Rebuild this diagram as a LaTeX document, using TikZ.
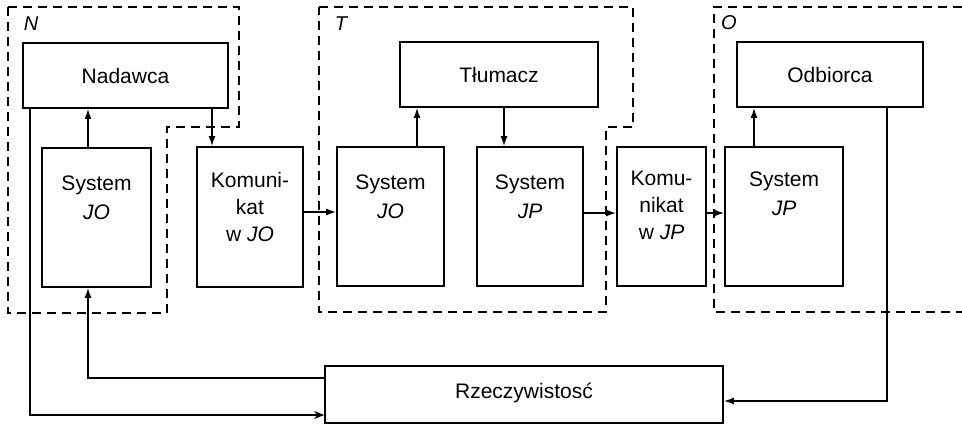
\documentclass[tikz,border=0pt]{standalone}
\usepackage{fontspec}
\setmainfont{Liberation Sans}
\usetikzlibrary{arrows.meta,calc}
\begin{document}
\begin{tikzpicture}[x=1pt,y=-1pt,
  box/.style={draw,line width=1.7pt,rectangle,inner sep=0pt},
  txt/.style={align=center,inner sep=0pt,font=\fontsize{21}{29}\selectfont},
  ktxt/.style={align=center,inner sep=0pt,font=\fontsize{21}{27}\selectfont},
  lbl/.style={inner sep=0pt,font=\fontsize{20}{22}\selectfont\itshape},
  region/.style={dashed,dash pattern=on 9pt off 6pt,line width=1.5pt},
  conn/.style={line width=1.5pt},
  arr/.style={conn,-{Latex[length=10pt,width=7pt]}},
  oarr/.style={conn,-{Stealth[length=10pt,width=8pt,open]}}]
\useasboundingbox (0,0) rectangle (962,424);
% regions
\draw[region] (8,7) -- (239,7) -- (239,127) -- (167,127) -- (167,313) -- (8,313) -- cycle;
\draw[region] (319,7) -- (633,7) -- (633,127) -- (606,127) -- (606,312) -- (319,312) -- cycle;
\draw[region] (962,7) -- (714,7) -- (714,312) -- (962,312);
\node[lbl] (lN) at (31,24) {N};
\node[lbl] (lT) at (341,24) {T};
\node[lbl] (lO) at (729,23) {O};
% boxes
\node[box,minimum width=205,minimum height=65] (nad) at (125.5,75.5) {};
\node[txt] (tnad) at (nad.center) {Nadawca};
\node[box,minimum width=109,minimum height=139] (sysN) at (96.5,217.5) {};
\node[txt] (tsysN) at ($(sysN.north)+(0,51)$) {System\\\textit{JO}};
\node[box,minimum width=106,minimum height=140] (komJO) at (250,217) {};
\node[ktxt] (tkomJO) at ($(komJO.north)+(0,61)$) {Komuni-\\kat\\w \textit{JO}};
\node[box,minimum width=198,minimum height=65] (tlu) at (499,74.5) {};
\node[txt] (ttlu) at (tlu.center) {Tłumacz};
\node[box,minimum width=107,minimum height=139] (sysT1) at (390.5,216.5) {};
\node[txt] (tsysT1) at ($(sysT1.north)+(0,51)$) {System\\\textit{JO}};
\node[box,minimum width=106,minimum height=139] (sysT2) at (530,216.5) {};
\node[txt] (tsysT2) at ($(sysT2.north)+(0,51)$) {System\\\textit{JP}};
\node[box,minimum width=89,minimum height=139] (komJP) at (661.5,216.5) {};
\node[ktxt] (tkomJP) at ($(komJP.north)+(0,59)$) {Komu-\\nikat\\w \textit{JP}};
\node[box,minimum width=118,minimum height=139] (sysO) at (784,216.5) {};
\node[txt] (tsysO) at ($(sysO.north)+(0,48)$) {System\\\textit{JP}};
\node[box,minimum width=186,minimum height=65] (odb) at (830,74.5) {};
\node[txt] (todb) at (odb.center) {Odbiorca};
\node[box,minimum width=398,minimum height=57] (rz) at (524,394.5) {};
\node[txt] (trz) at ([yshift=2]rz.center) {Rzeczywistosć};
% connector anchor points (xshift/yshift are in canvas directions: +y is up)
\coordinate (c1) at ([xshift=-8.5]sysN.north);
\coordinate (c2) at ([xshift=-38]komJO.north);
\coordinate (c3) at ([yshift=5]komJO.east);
\coordinate (c4) at ([xshift=26.5]sysT1.north);
\coordinate (c5) at ([xshift=5]tlu.south);
\coordinate (c6) at ([yshift=3.5]sysT2.east);
\coordinate (c7) at ([yshift=3.5]komJP.east);
\coordinate (c8) at ([xshift=-30]sysO.north);
\coordinate (c9) at ([xshift=57]odb.south);
\coordinate (c10) at ([xshift=-95.5]nad.south);
\coordinate (r1) at ([yshift=-6.5]rz.east);
\coordinate (r2) at ([yshift=-20.5]rz.west);
\coordinate (r3) at ([yshift=16.5]rz.west);
\coordinate (c11) at ([xshift=-8.5]sysN.south);
% connectors
\draw[arr] (c1) -- (c1 |- nad.south);
\draw[arr] (c2 |- nad.south) -- (c2);
\draw[arr] (c3) -- (c3 -| sysT1.west);
\draw[arr] (c4) -- (c4 |- tlu.south);
\draw[arr] (c5) -- (c5 |- sysT2.north);
\draw[arr] (c6) -- (c6 -| komJP.west);
\draw[arr] (c7) -- (c7 -| sysO.west);
\draw[arr] (c8) -- (c8 |- odb.south);
\draw[arr] (c9) |- (r1);
\draw[oarr] (c10) |- (r2);
\draw[arr] (r3) -| (c11);
\end{tikzpicture}
\end{document}
